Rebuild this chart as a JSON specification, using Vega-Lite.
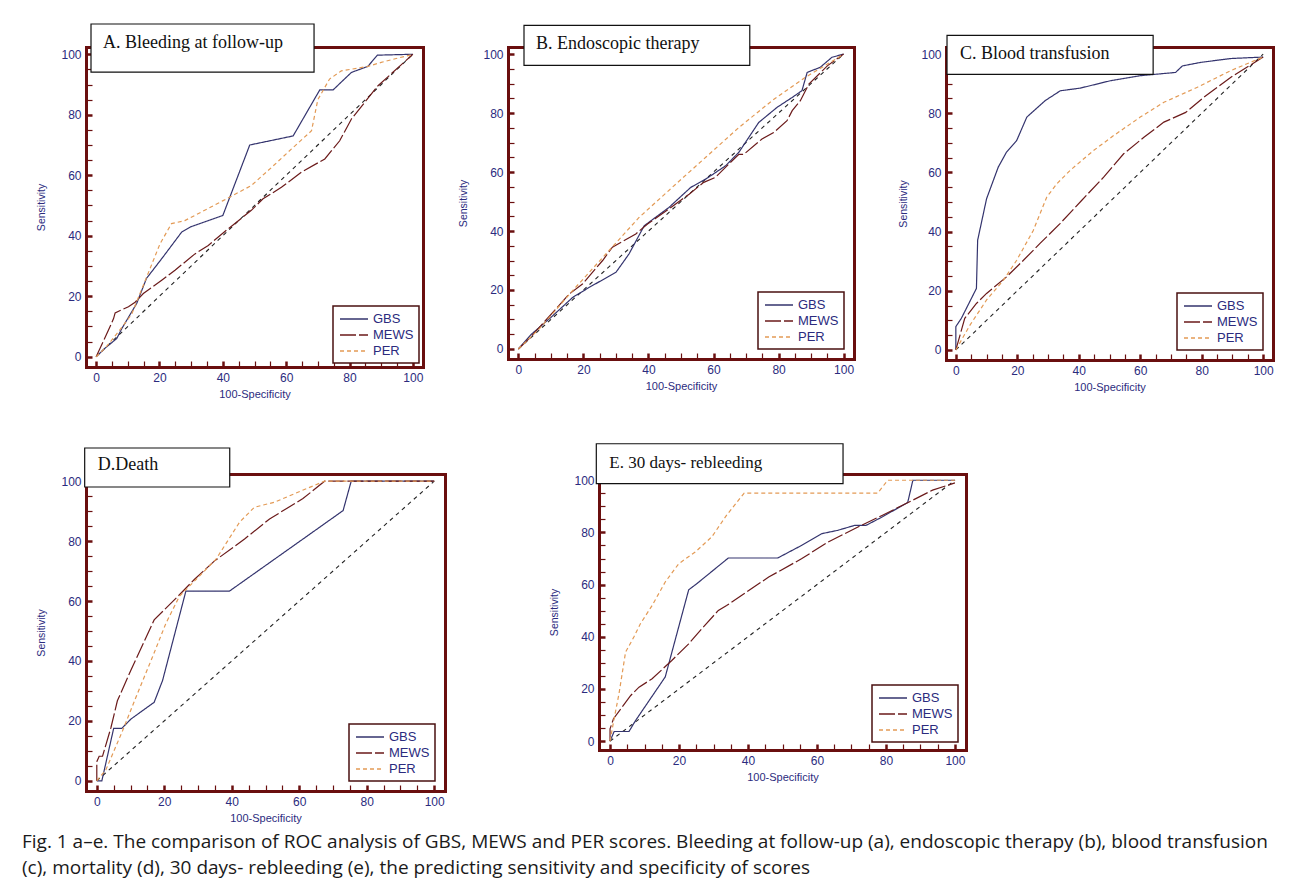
{
  "$schema": "https://vega.github.io/schema/vega-lite/v6.json",
  "background": "white",
  "padding": {"left": 21, "top": 23, "right": 5, "bottom": 5},
  "title": {
    "text": ["Fig. 1 a–e. The comparison of ROC analysis of GBS, MEWS and PER scores. Bleeding at follow-up (a), endoscopic therapy (b), blood transfusion", "(c), mortality (d), 30 days- rebleeding (e), the predicting sensitivity and specificity of scores"],
    "orient": "bottom", "anchor": "start", "font": "Open Sans", "fontSize": 19, "fontWeight": "normal",
    "color": "#1a1a1a", "lineHeight": 26, "offset": 10, "dx": -15
  },
  "config": {
    "view": {"stroke": null},
    "axis": {
      "grid": false, "domainColor": "#6a0f0f", "domainWidth": 3, "domainCap": "square",
      "labelFont": "Liberation Sans", "labelFontSize": 12, "labelColor": "#2b2b7e", "labelPadding": 11, "labelFlush": false, "labelOverlap": false,
      "tickColor": "#6a0f0f", "tickSize": -6, "titleFont": "Liberation Sans", "titleFontWeight": "normal", "titleColor": "#2b2b7e"
    },
    "legend": {
      "orient": "bottom-right", "offset": 10, "symbolType": "M-2,0H2", "symbolStrokeWidth": 1.5, "symbolSize": 196, "symbolOffset": 8,
      "labelFont": "Liberation Sans", "labelFontSize": 13, "labelColor": "#2b2b7e", "strokeColor": "#4a1010",
      "fillColor": "white", "padding": 5, "rowPadding": 1, "labelOffset": 11, "strokeWidth": 1.5
    }
  },
  "datasets": {
    "diag": [{"x": 0, "y": 0}, {"x": 100, "y": 100}],
    "A": [
      {"fpr": 0, "sens": 0, "score": "GBS"}, {"fpr": 3, "sens": 3, "score": "GBS"}, {"fpr": 6.5, "sens": 6, "score": "GBS"}, {"fpr": 8.1, "sens": 9.3, "score": "GBS"}, {"fpr": 12.8, "sens": 17.6, "score": "GBS"}, {"fpr": 15.9, "sens": 25.9, "score": "GBS"}, {"fpr": 20.7, "sens": 32.4, "score": "GBS"}, {"fpr": 27, "sens": 41.2, "score": "GBS"}, {"fpr": 30, "sens": 43, "score": "GBS"}, {"fpr": 40, "sens": 46.7, "score": "GBS"}, {"fpr": 48.5, "sens": 70, "score": "GBS"}, {"fpr": 62.2, "sens": 73, "score": "GBS"}, {"fpr": 70.6, "sens": 88.2, "score": "GBS"}, {"fpr": 74.8, "sens": 88.2, "score": "GBS"}, {"fpr": 80.6, "sens": 94, "score": "GBS"}, {"fpr": 85.8, "sens": 96, "score": "GBS"}, {"fpr": 88.8, "sens": 99.7, "score": "GBS"}, {"fpr": 100, "sens": 100, "score": "GBS"},
      {"fpr": 0, "sens": 0, "score": "MEWS"}, {"fpr": 3.9, "sens": 8.8, "score": "MEWS"}, {"fpr": 5.5, "sens": 12.6, "score": "MEWS"}, {"fpr": 6, "sens": 14.5, "score": "MEWS"}, {"fpr": 10.2, "sens": 16.5, "score": "MEWS"}, {"fpr": 12.3, "sens": 18, "score": "MEWS"}, {"fpr": 14.9, "sens": 20.9, "score": "MEWS"}, {"fpr": 20.7, "sens": 25.3, "score": "MEWS"}, {"fpr": 24.9, "sens": 28.6, "score": "MEWS"}, {"fpr": 31.2, "sens": 34, "score": "MEWS"}, {"fpr": 35.4, "sens": 36.8, "score": "MEWS"}, {"fpr": 41.7, "sens": 42.3, "score": "MEWS"}, {"fpr": 49, "sens": 48.4, "score": "MEWS"}, {"fpr": 52.7, "sens": 52.2, "score": "MEWS"}, {"fpr": 58.5, "sens": 56, "score": "MEWS"}, {"fpr": 64.8, "sens": 61, "score": "MEWS"}, {"fpr": 72.2, "sens": 65.4, "score": "MEWS"}, {"fpr": 76.9, "sens": 71.4, "score": "MEWS"}, {"fpr": 80.6, "sens": 78.6, "score": "MEWS"}, {"fpr": 89, "sens": 89.6, "score": "MEWS"}, {"fpr": 100, "sens": 100, "score": "MEWS"},
      {"fpr": 0, "sens": 0, "score": "PER"}, {"fpr": 3, "sens": 3, "score": "PER"}, {"fpr": 7, "sens": 8.2, "score": "PER"}, {"fpr": 11.2, "sens": 14, "score": "PER"}, {"fpr": 14.9, "sens": 23.6, "score": "PER"}, {"fpr": 20.2, "sens": 37.4, "score": "PER"}, {"fpr": 23.8, "sens": 44, "score": "PER"}, {"fpr": 28, "sens": 45, "score": "PER"}, {"fpr": 40.1, "sens": 51.6, "score": "PER"}, {"fpr": 49, "sens": 56.6, "score": "PER"}, {"fpr": 55.4, "sens": 62.6, "score": "PER"}, {"fpr": 61.7, "sens": 68.7, "score": "PER"}, {"fpr": 68, "sens": 74.7, "score": "PER"}, {"fpr": 70, "sens": 85, "score": "PER"}, {"fpr": 73.7, "sens": 91.8, "score": "PER"}, {"fpr": 77.4, "sens": 94.5, "score": "PER"}, {"fpr": 85.8, "sens": 96, "score": "PER"}, {"fpr": 90, "sens": 97.3, "score": "PER"}, {"fpr": 100, "sens": 100, "score": "PER"}
    ],
    "B": [
      {"fpr": 0, "sens": 0, "score": "GBS"}, {"fpr": 4, "sens": 5, "score": "GBS"}, {"fpr": 10, "sens": 10.7, "score": "GBS"}, {"fpr": 16.7, "sens": 17.5, "score": "GBS"}, {"fpr": 21.8, "sens": 20.9, "score": "GBS"}, {"fpr": 30, "sens": 26, "score": "GBS"}, {"fpr": 34, "sens": 32.2, "score": "GBS"}, {"fpr": 38.7, "sens": 41.8, "score": "GBS"}, {"fpr": 46.3, "sens": 48, "score": "GBS"}, {"fpr": 53, "sens": 54.8, "score": "GBS"}, {"fpr": 57.6, "sens": 57.6, "score": "GBS"}, {"fpr": 63.7, "sens": 62.1, "score": "GBS"}, {"fpr": 67.8, "sens": 66.7, "score": "GBS"}, {"fpr": 73.9, "sens": 76.8, "score": "GBS"}, {"fpr": 79.5, "sens": 81.9, "score": "GBS"}, {"fpr": 84.2, "sens": 85.3, "score": "GBS"}, {"fpr": 87.2, "sens": 87.6, "score": "GBS"}, {"fpr": 88.8, "sens": 93.8, "score": "GBS"}, {"fpr": 92.8, "sens": 95.5, "score": "GBS"}, {"fpr": 96.4, "sens": 98.9, "score": "GBS"}, {"fpr": 100, "sens": 100, "score": "GBS"},
      {"fpr": 0, "sens": 0, "score": "MEWS"}, {"fpr": 3.2, "sens": 3.4, "score": "MEWS"}, {"fpr": 7, "sens": 8, "score": "MEWS"}, {"fpr": 15.6, "sens": 18.6, "score": "MEWS"}, {"fpr": 19.7, "sens": 22, "score": "MEWS"}, {"fpr": 25.9, "sens": 30, "score": "MEWS"}, {"fpr": 28.9, "sens": 34.5, "score": "MEWS"}, {"fpr": 36.1, "sens": 39, "score": "MEWS"}, {"fpr": 39.7, "sens": 42.4, "score": "MEWS"}, {"fpr": 46.3, "sens": 47.5, "score": "MEWS"}, {"fpr": 52.5, "sens": 52.5, "score": "MEWS"}, {"fpr": 57, "sens": 56.5, "score": "MEWS"}, {"fpr": 60.6, "sens": 58.2, "score": "MEWS"}, {"fpr": 64.7, "sens": 62.7, "score": "MEWS"}, {"fpr": 67.8, "sens": 66, "score": "MEWS"}, {"fpr": 69.3, "sens": 66, "score": "MEWS"}, {"fpr": 74.9, "sens": 71.2, "score": "MEWS"}, {"fpr": 78.5, "sens": 73.4, "score": "MEWS"}, {"fpr": 82.6, "sens": 77.4, "score": "MEWS"}, {"fpr": 84.2, "sens": 80.8, "score": "MEWS"}, {"fpr": 86.7, "sens": 84.2, "score": "MEWS"}, {"fpr": 89.3, "sens": 89.8, "score": "MEWS"}, {"fpr": 95, "sens": 96, "score": "MEWS"}, {"fpr": 100, "sens": 100, "score": "MEWS"},
      {"fpr": 0, "sens": 0, "score": "PER"}, {"fpr": 6.4, "sens": 6.8, "score": "PER"}, {"fpr": 16.7, "sens": 19.8, "score": "PER"}, {"fpr": 26.9, "sens": 32.2, "score": "PER"}, {"fpr": 37.1, "sens": 44.6, "score": "PER"}, {"fpr": 47.3, "sens": 54.8, "score": "PER"}, {"fpr": 57.6, "sens": 65, "score": "PER"}, {"fpr": 67.8, "sens": 75.1, "score": "PER"}, {"fpr": 78, "sens": 84.2, "score": "PER"}, {"fpr": 88.2, "sens": 92.1, "score": "PER"}, {"fpr": 98.5, "sens": 98.9, "score": "PER"}, {"fpr": 100, "sens": 100, "score": "PER"}
    ],
    "C": [
      {"fpr": 0, "sens": 0, "score": "GBS"}, {"fpr": 0, "sens": 7.9, "score": "GBS"}, {"fpr": 1.8, "sens": 10.7, "score": "GBS"}, {"fpr": 6.7, "sens": 20.8, "score": "GBS"}, {"fpr": 7.1, "sens": 37.1, "score": "GBS"}, {"fpr": 10, "sens": 51.1, "score": "GBS"}, {"fpr": 13.8, "sens": 61.8, "score": "GBS"}, {"fpr": 16.5, "sens": 66.9, "score": "GBS"}, {"fpr": 19.8, "sens": 70.8, "score": "GBS"}, {"fpr": 23.1, "sens": 78.7, "score": "GBS"}, {"fpr": 29.1, "sens": 84.3, "score": "GBS"}, {"fpr": 34, "sens": 87.6, "score": "GBS"}, {"fpr": 40.5, "sens": 88.5, "score": "GBS"}, {"fpr": 50.3, "sens": 91, "score": "GBS"}, {"fpr": 60, "sens": 92.7, "score": "GBS"}, {"fpr": 71.5, "sens": 93.8, "score": "GBS"}, {"fpr": 73.7, "sens": 96, "score": "GBS"}, {"fpr": 79.7, "sens": 97.2, "score": "GBS"}, {"fpr": 89.4, "sens": 98.5, "score": "GBS"}, {"fpr": 100, "sens": 99, "score": "GBS"},
      {"fpr": 0, "sens": 0, "score": "MEWS"}, {"fpr": 2.9, "sens": 10.7, "score": "MEWS"}, {"fpr": 6.7, "sens": 15.7, "score": "MEWS"}, {"fpr": 10, "sens": 19.1, "score": "MEWS"}, {"fpr": 16.5, "sens": 24.7, "score": "MEWS"}, {"fpr": 22, "sens": 30.3, "score": "MEWS"}, {"fpr": 27.4, "sens": 36, "score": "MEWS"}, {"fpr": 33.9, "sens": 42.7, "score": "MEWS"}, {"fpr": 41, "sens": 50.6, "score": "MEWS"}, {"fpr": 48.1, "sens": 58.4, "score": "MEWS"}, {"fpr": 54.6, "sens": 66.3, "score": "MEWS"}, {"fpr": 61.2, "sens": 71.9, "score": "MEWS"}, {"fpr": 67.7, "sens": 77, "score": "MEWS"}, {"fpr": 74.8, "sens": 80.3, "score": "MEWS"}, {"fpr": 80.7, "sens": 85.4, "score": "MEWS"}, {"fpr": 89.4, "sens": 92.1, "score": "MEWS"}, {"fpr": 100, "sens": 99, "score": "MEWS"},
      {"fpr": 0, "sens": 0, "score": "PER"}, {"fpr": 4.6, "sens": 8.4, "score": "PER"}, {"fpr": 10, "sens": 16.9, "score": "PER"}, {"fpr": 15.5, "sens": 23.6, "score": "PER"}, {"fpr": 19.8, "sens": 30.3, "score": "PER"}, {"fpr": 25.2, "sens": 40.4, "score": "PER"}, {"fpr": 29.6, "sens": 51.7, "score": "PER"}, {"fpr": 32.9, "sens": 56.2, "score": "PER"}, {"fpr": 37.2, "sens": 60.7, "score": "PER"}, {"fpr": 44.8, "sens": 67.4, "score": "PER"}, {"fpr": 51.4, "sens": 72.5, "score": "PER"}, {"fpr": 60, "sens": 78.7, "score": "PER"}, {"fpr": 67.7, "sens": 83.7, "score": "PER"}, {"fpr": 78.6, "sens": 88.8, "score": "PER"}, {"fpr": 89.4, "sens": 94.4, "score": "PER"}, {"fpr": 100, "sens": 99, "score": "PER"}
    ],
    "D": [
      {"fpr": 0, "sens": 0, "score": "GBS"}, {"fpr": 1.5, "sens": 0, "score": "GBS"}, {"fpr": 5, "sens": 17.5, "score": "GBS"}, {"fpr": 7.4, "sens": 17.5, "score": "GBS"}, {"fpr": 10.1, "sens": 20.6, "score": "GBS"}, {"fpr": 17, "sens": 26.2, "score": "GBS"}, {"fpr": 19.5, "sens": 33.5, "score": "GBS"}, {"fpr": 26.4, "sens": 63.3, "score": "GBS"}, {"fpr": 39.3, "sens": 63.3, "score": "GBS"}, {"fpr": 66, "sens": 84.6, "score": "GBS"}, {"fpr": 73, "sens": 90.2, "score": "GBS"}, {"fpr": 75.4, "sens": 100, "score": "GBS"}, {"fpr": 100, "sens": 100, "score": "GBS"},
      {"fpr": 0, "sens": 0, "score": "MEWS"}, {"fpr": 0, "sens": 6.4, "score": "MEWS"}, {"fpr": 0.7, "sens": 8.2, "score": "MEWS"}, {"fpr": 1.7, "sens": 8.2, "score": "MEWS"}, {"fpr": 4.2, "sens": 17.8, "score": "MEWS"}, {"fpr": 6.1, "sens": 26.7, "score": "MEWS"}, {"fpr": 10.1, "sens": 36.9, "score": "MEWS"}, {"fpr": 17, "sens": 53.7, "score": "MEWS"}, {"fpr": 19.5, "sens": 56.5, "score": "MEWS"}, {"fpr": 24.5, "sens": 62.1, "score": "MEWS"}, {"fpr": 28.9, "sens": 67.2, "score": "MEWS"}, {"fpr": 34.9, "sens": 73.4, "score": "MEWS"}, {"fpr": 43.8, "sens": 80.7, "score": "MEWS"}, {"fpr": 51.2, "sens": 87.4, "score": "MEWS"}, {"fpr": 61.1, "sens": 94.2, "score": "MEWS"}, {"fpr": 67.5, "sens": 100, "score": "MEWS"}, {"fpr": 100, "sens": 100, "score": "MEWS"},
      {"fpr": 0, "sens": 0, "score": "PER"}, {"fpr": 2.7, "sens": 3.7, "score": "PER"}, {"fpr": 7.6, "sens": 16.6, "score": "PER"}, {"fpr": 11.6, "sens": 27.9, "score": "PER"}, {"fpr": 16.5, "sens": 41.3, "score": "PER"}, {"fpr": 20.5, "sens": 52.6, "score": "PER"}, {"fpr": 24.5, "sens": 61.6, "score": "PER"}, {"fpr": 29.4, "sens": 67.2, "score": "PER"}, {"fpr": 35.3, "sens": 73.9, "score": "PER"}, {"fpr": 42.3, "sens": 86.3, "score": "PER"}, {"fpr": 46.7, "sens": 91.3, "score": "PER"}, {"fpr": 52.7, "sens": 93, "score": "PER"}, {"fpr": 62.1, "sens": 97.5, "score": "PER"}, {"fpr": 67.5, "sens": 100, "score": "PER"}, {"fpr": 100, "sens": 100, "score": "PER"}
    ],
    "E": [
      {"fpr": 0, "sens": 0, "score": "GBS"}, {"fpr": 1.2, "sens": 3.7, "score": "GBS"}, {"fpr": 5.5, "sens": 3.7, "score": "GBS"}, {"fpr": 7.4, "sens": 7.9, "score": "GBS"}, {"fpr": 16, "sens": 24.6, "score": "GBS"}, {"fpr": 22.8, "sens": 58, "score": "GBS"}, {"fpr": 25.2, "sens": 60.4, "score": "GBS"}, {"fpr": 34.3, "sens": 70.2, "score": "GBS"}, {"fpr": 48.6, "sens": 70.2, "score": "GBS"}, {"fpr": 55.5, "sens": 75, "score": "GBS"}, {"fpr": 61.3, "sens": 79.5, "score": "GBS"}, {"fpr": 66, "sens": 80.8, "score": "GBS"}, {"fpr": 70.9, "sens": 82.7, "score": "GBS"}, {"fpr": 74.2, "sens": 82.7, "score": "GBS"}, {"fpr": 79, "sens": 86, "score": "GBS"}, {"fpr": 86.3, "sens": 91.5, "score": "GBS"}, {"fpr": 87.8, "sens": 100, "score": "GBS"}, {"fpr": 100, "sens": 100, "score": "GBS"},
      {"fpr": 0, "sens": 0, "score": "MEWS"}, {"fpr": 0, "sens": 4.7, "score": "MEWS"}, {"fpr": 1, "sens": 8.6, "score": "MEWS"}, {"fpr": 6, "sens": 17.5, "score": "MEWS"}, {"fpr": 8.4, "sens": 20.7, "score": "MEWS"}, {"fpr": 12.2, "sens": 23.9, "score": "MEWS"}, {"fpr": 17.9, "sens": 30.9, "score": "MEWS"}, {"fpr": 22.8, "sens": 37.3, "score": "MEWS"}, {"fpr": 26.6, "sens": 43.1, "score": "MEWS"}, {"fpr": 31.4, "sens": 50.1, "score": "MEWS"}, {"fpr": 33.8, "sens": 52, "score": "MEWS"}, {"fpr": 38.2, "sens": 55.9, "score": "MEWS"}, {"fpr": 46, "sens": 62.9, "score": "MEWS"}, {"fpr": 55.5, "sens": 69.9, "score": "MEWS"}, {"fpr": 63.2, "sens": 76.3, "score": "MEWS"}, {"fpr": 71.3, "sens": 81.7, "score": "MEWS"}, {"fpr": 79, "sens": 86.6, "score": "MEWS"}, {"fpr": 87.2, "sens": 92, "score": "MEWS"}, {"fpr": 93.5, "sens": 96.2, "score": "MEWS"}, {"fpr": 100, "sens": 99, "score": "MEWS"},
      {"fpr": 0, "sens": 0, "score": "PER"}, {"fpr": 1, "sens": 7.3, "score": "PER"}, {"fpr": 2.6, "sens": 18.2, "score": "PER"}, {"fpr": 4.5, "sens": 34.1, "score": "PER"}, {"fpr": 6.9, "sens": 39.9, "score": "PER"}, {"fpr": 8.8, "sens": 45, "score": "PER"}, {"fpr": 12.2, "sens": 52, "score": "PER"}, {"fpr": 16, "sens": 61, "score": "PER"}, {"fpr": 19.9, "sens": 68, "score": "PER"}, {"fpr": 24.7, "sens": 72.5, "score": "PER"}, {"fpr": 29.5, "sens": 78.3, "score": "PER"}, {"fpr": 33.8, "sens": 86.6, "score": "PER"}, {"fpr": 38.9, "sens": 95.1, "score": "PER"}, {"fpr": 77.6, "sens": 95.1, "score": "PER"}, {"fpr": 80.5, "sens": 100, "score": "PER"}, {"fpr": 100, "sens": 100, "score": "PER"}
    ]
  },
  "spacing": 44,
  "resolve": {"scale": {"color": "independent", "strokeDash": "independent"}, "legend": {"color": "independent", "strokeDash": "independent"}},
  "vconcat": [
    {
      "spacing": 44, "align": "none",
      "resolve": {"scale": {"color": "independent", "strokeDash": "independent"}, "legend": {"color": "independent", "strokeDash": "independent"}},
      "hconcat": [
        {
          "spacing": 35, "align": "none",
          "resolve": {"scale": {"color": "independent", "strokeDash": "independent"}, "legend": {"color": "independent", "strokeDash": "independent"}},
          "hconcat": [
            {
              "width": 337, "height": 320,
              "resolve": {"axis": {"x": "independent", "y": "independent"}},
              "layer": [
                {"data": {"name": "diag"}, "mark": {"type": "line", "color": "#222222", "strokeDash": [4, 4], "strokeWidth": 1.1},
                 "encoding": {
                   "x": {"field": "x", "type": "quantitative", "scale": {"domain": [-3.2, 103.2], "nice": false, "zero": false}, "axis": {"orient": "top", "labels": false, "ticks": false, "title": null}},
                   "y": {"field": "y", "type": "quantitative", "scale": {"domain": [-3.4, 102.4], "nice": false, "zero": false}, "axis": {"orient": "right", "labels": false, "ticks": false, "title": null}}
                 }},
                {"data": {"name": "A"}, "mark": {"type": "line", "strokeWidth": 1.2},
                 "encoding": {
                   "x": {"field": "fpr", "type": "quantitative", "scale": {"domain": [-3.2, 103.2], "nice": false, "zero": false},
                     "axis": {"orient": "bottom", "values": [0,5,10,15,20,25,30,35,40,45,50,55,60,65,70,75,80,85,90,95,100], "labelExpr": "datum.value % 20 === 0 ? datum.label : ''", "title": "100-Specificity", "titleFontSize": 11, "titlePadding": 5, "tickWidth": {"condition": {"test": "datum.value % 20 === 0", "value": 2.5}, "value": 1.2}}},
                   "y": {"field": "sens", "type": "quantitative", "scale": {"domain": [-3.4, 102.4], "nice": false, "zero": false},
                     "axis": {"orient": "left", "values": [0,5,10,15,20,25,30,35,40,45,50,55,60,65,70,75,80,85,90,95,100], "labelExpr": "datum.value % 20 === 0 ? datum.label : ''", "title": "Sensitivity", "titleFontSize": 10.5, "titlePadding": 14, "tickWidth": {"condition": {"test": "datum.value % 20 === 0", "value": 2.5}, "value": 1.2}}},
                   "color": {"field": "score", "type": "nominal", "scale": {"domain": ["GBS", "MEWS", "PER"], "range": ["#34346e", "#6b1a1a", "#e39a55"]}, "legend": {"title": null, "offset": 4}},
                   "strokeDash": {"field": "score", "type": "nominal", "scale": {"domain": ["GBS", "MEWS", "PER"], "range": [[1, 0], [16, 3], [4, 3]]}, "legend": {"title": null, "offset": 4}},
                   "order": [{"field": "fpr", "type": "quantitative"}, {"field": "sens", "type": "quantitative"}]
                 }},
                {"data": {"values": [{"label": "A. Bleeding at follow-up"}]}, "mark": {"type": "rect", "fill": "white", "stroke": "#111111", "strokeWidth": 1.2},
                 "encoding": {"x": {"datum": -1.62, "axis": null}, "x2": {"datum": 68.8}, "y": {"datum": 110, "axis": null}, "y2": {"datum": 94.1}}},
                {"data": {"values": [{"label": "A. Bleeding at follow-up"}]}, "mark": {"type": "text", "font": "Liberation Serif", "fontSize": 18, "align": "left", "baseline": "middle", "color": "#111111"},
                 "encoding": {"x": {"datum": 2.2, "axis": null}, "y": {"datum": 103.7, "axis": null}, "text": {"field": "label"}}}
              ]
            },
            {
              "width": 346, "height": 312,
              "resolve": {"axis": {"x": "independent", "y": "independent"}},
              "layer": [
                {"data": {"name": "diag"}, "mark": {"type": "line", "color": "#222222", "strokeDash": [4, 4], "strokeWidth": 1.1},
                 "encoding": {
                   "x": {"field": "x", "type": "quantitative", "scale": {"domain": [-3.2, 103.2], "nice": false, "zero": false}, "axis": {"orient": "top", "labels": false, "ticks": false, "title": null}},
                   "y": {"field": "y", "type": "quantitative", "scale": {"domain": [-3.4, 102.4], "nice": false, "zero": false}, "axis": {"orient": "right", "labels": false, "ticks": false, "title": null}}
                 }},
                {"data": {"name": "B"}, "mark": {"type": "line", "strokeWidth": 1.2},
                 "encoding": {
                   "x": {"field": "fpr", "type": "quantitative", "scale": {"domain": [-3.2, 103.2], "nice": false, "zero": false},
                     "axis": {"orient": "bottom", "values": [0,5,10,15,20,25,30,35,40,45,50,55,60,65,70,75,80,85,90,95,100], "labelExpr": "datum.value % 20 === 0 ? datum.label : ''", "title": "100-Specificity", "titleFontSize": 11, "titlePadding": 5, "tickWidth": {"condition": {"test": "datum.value % 20 === 0", "value": 2.5}, "value": 1.2}}},
                   "y": {"field": "sens", "type": "quantitative", "scale": {"domain": [-3.4, 102.4], "nice": false, "zero": false},
                     "axis": {"orient": "left", "values": [0,5,10,15,20,25,30,35,40,45,50,55,60,65,70,75,80,85,90,95,100], "labelExpr": "datum.value % 20 === 0 ? datum.label : ''", "title": "Sensitivity", "titleFontSize": 10.5, "titlePadding": 14, "tickWidth": {"condition": {"test": "datum.value % 20 === 0", "value": 2.5}, "value": 1.2}}},
                   "color": {"field": "score", "type": "nominal", "scale": {"domain": ["GBS", "MEWS", "PER"], "range": ["#34346e", "#6b1a1a", "#e39a55"]}, "legend": {"title": null}},
                   "strokeDash": {"field": "score", "type": "nominal", "scale": {"domain": ["GBS", "MEWS", "PER"], "range": [[1, 0], [16, 3], [4, 3]]}, "legend": {"title": null}},
                   "order": [{"field": "fpr", "type": "quantitative"}, {"field": "sens", "type": "quantitative"}]
                 }},
                {"data": {"values": [{"label": "B. Endoscopic therapy"}]}, "mark": {"type": "rect", "fill": "white", "stroke": "#111111", "strokeWidth": 1.2},
                 "encoding": {"x": {"datum": 1.72, "axis": null}, "x2": {"datum": 71.15}, "y": {"datum": 109.76, "axis": null}, "y2": {"datum": 96.2}}},
                {"data": {"values": [{"label": "B. Endoscopic therapy"}]}, "mark": {"type": "text", "font": "Liberation Serif", "fontSize": 18, "align": "left", "baseline": "middle", "color": "#111111"},
                 "encoding": {"x": {"datum": 5.4, "axis": null}, "y": {"datum": 103.55, "axis": null}, "text": {"field": "label"}}}
              ]
            }
          ]
        },
        {
          "width": 327, "height": 313,
          "resolve": {"axis": {"x": "independent", "y": "independent"}},
          "layer": [
            {"data": {"name": "diag"}, "mark": {"type": "line", "color": "#222222", "strokeDash": [4, 4], "strokeWidth": 1.1},
             "encoding": {
               "x": {"field": "x", "type": "quantitative", "scale": {"domain": [-3.2, 103.2], "nice": false, "zero": false}, "axis": {"orient": "top", "labels": false, "ticks": false, "title": null}},
               "y": {"field": "y", "type": "quantitative", "scale": {"domain": [-3.4, 102.4], "nice": false, "zero": false}, "axis": {"orient": "right", "labels": false, "ticks": false, "title": null}}
             }},
            {"data": {"name": "C"}, "mark": {"type": "line", "strokeWidth": 1.2},
             "encoding": {
               "x": {"field": "fpr", "type": "quantitative", "scale": {"domain": [-3.2, 103.2], "nice": false, "zero": false},
                 "axis": {"orient": "bottom", "values": [0,5,10,15,20,25,30,35,40,45,50,55,60,65,70,75,80,85,90,95,100], "labelExpr": "datum.value % 20 === 0 ? datum.label : ''", "title": "100-Specificity", "titleFontSize": 11, "titlePadding": 5, "tickWidth": {"condition": {"test": "datum.value % 20 === 0", "value": 2.5}, "value": 1.2}}},
               "y": {"field": "sens", "type": "quantitative", "scale": {"domain": [-3.4, 102.4], "nice": false, "zero": false},
                 "axis": {"orient": "left", "values": [0,5,10,15,20,25,30,35,40,45,50,55,60,65,70,75,80,85,90,95,100], "labelExpr": "datum.value % 20 === 0 ? datum.label : ''", "title": "Sensitivity", "titleFontSize": 10.5, "titlePadding": 12, "tickWidth": {"condition": {"test": "datum.value % 20 === 0", "value": 2.5}, "value": 1.2}}},
               "color": {"field": "score", "type": "nominal", "scale": {"domain": ["GBS", "MEWS", "PER"], "range": ["#34346e", "#6b1a1a", "#e39a55"]}, "legend": {"title": null}},
               "strokeDash": {"field": "score", "type": "nominal", "scale": {"domain": ["GBS", "MEWS", "PER"], "range": [[1, 0], [16, 3], [4, 3]]}, "legend": {"title": null}},
               "order": [{"field": "fpr", "type": "quantitative"}, {"field": "sens", "type": "quantitative"}]
             }},
            {"data": {"values": [{"label": "C. Blood transfusion"}]}, "mark": {"type": "rect", "fill": "white", "stroke": "#111111", "strokeWidth": 1.2},
             "encoding": {"x": {"datum": -2.87, "axis": null}, "x2": {"datum": 64.2}, "y": {"datum": 106.36, "axis": null}, "y2": {"datum": 93.17}}},
            {"data": {"values": [{"label": "C. Blood transfusion"}]}, "mark": {"type": "text", "font": "Liberation Serif", "fontSize": 18, "align": "left", "baseline": "middle", "color": "#111111"},
             "encoding": {"x": {"datum": 1.36, "axis": null}, "y": {"datum": 100.17, "axis": null}, "text": {"field": "label"}}}
          ]
        }
      ]
    },
    {
      "spacing": 104, "align": "none",
      "resolve": {"scale": {"color": "independent", "strokeDash": "independent"}, "legend": {"color": "independent", "strokeDash": "independent"}},
      "hconcat": [
        {
          "width": 359, "height": 317,
          "resolve": {"axis": {"x": "independent", "y": "independent"}},
          "layer": [
            {"data": {"name": "diag"}, "mark": {"type": "line", "color": "#222222", "strokeDash": [4, 4], "strokeWidth": 1.1},
             "encoding": {
               "x": {"field": "x", "type": "quantitative", "scale": {"domain": [-3.2, 103.2], "nice": false, "zero": false}, "axis": {"orient": "top", "labels": false, "ticks": false, "title": null}},
               "y": {"field": "y", "type": "quantitative", "scale": {"domain": [-3.4, 102.4], "nice": false, "zero": false}, "axis": {"orient": "right", "labels": false, "ticks": false, "title": null}}
             }},
            {"data": {"name": "D"}, "mark": {"type": "line", "strokeWidth": 1.2},
             "encoding": {
               "x": {"field": "fpr", "type": "quantitative", "scale": {"domain": [-3.2, 103.2], "nice": false, "zero": false},
                 "axis": {"orient": "bottom", "values": [0,5,10,15,20,25,30,35,40,45,50,55,60,65,70,75,80,85,90,95,100], "labelExpr": "datum.value % 20 === 0 ? datum.label : ''", "title": "100-Specificity", "titleFontSize": 11, "titlePadding": 5, "tickWidth": {"condition": {"test": "datum.value % 20 === 0", "value": 2.5}, "value": 1.2}}},
               "y": {"field": "sens", "type": "quantitative", "scale": {"domain": [-3.4, 102.4], "nice": false, "zero": false},
                 "axis": {"orient": "left", "values": [0,5,10,15,20,25,30,35,40,45,50,55,60,65,70,75,80,85,90,95,100], "labelExpr": "datum.value % 20 === 0 ? datum.label : ''", "title": "Sensitivity", "titleFontSize": 10.5, "titlePadding": 14, "tickWidth": {"condition": {"test": "datum.value % 20 === 0", "value": 2.5}, "value": 1.2}}},
               "color": {"field": "score", "type": "nominal", "scale": {"domain": ["GBS", "MEWS", "PER"], "range": ["#34346e", "#6b1a1a", "#e39a55"]}, "legend": {"title": null}},
               "strokeDash": {"field": "score", "type": "nominal", "scale": {"domain": ["GBS", "MEWS", "PER"], "range": [[1, 0], [16, 3], [4, 3]]}, "legend": {"title": null}},
               "order": [{"field": "fpr", "type": "quantitative"}, {"field": "sens", "type": "quantitative"}]
             }},
            {"data": {"values": [{"label": "D.Death"}]}, "mark": {"type": "rect", "fill": "white", "stroke": "#111111", "strokeWidth": 1.2},
             "encoding": {"x": {"datum": -3.59, "axis": null}, "x2": {"datum": 39.4}, "y": {"datum": 111.08, "axis": null}, "y2": {"datum": 98.06}}},
            {"data": {"values": [{"label": "D.Death"}]}, "mark": {"type": "text", "font": "Liberation Serif", "fontSize": 18, "align": "left", "baseline": "middle", "color": "#111111"},
             "encoding": {"x": {"datum": 0.27, "axis": null}, "y": {"datum": 105.5, "axis": null}, "text": {"field": "label"}}}
          ]
        },
        {
          "width": 367, "height": 276,
          "resolve": {"axis": {"x": "independent", "y": "independent"}},
          "layer": [
            {"data": {"name": "diag"}, "mark": {"type": "line", "color": "#222222", "strokeDash": [4, 4], "strokeWidth": 1.1},
             "encoding": {
               "x": {"field": "x", "type": "quantitative", "scale": {"domain": [-3.2, 103.2], "nice": false, "zero": false}, "axis": {"orient": "top", "labels": false, "ticks": false, "title": null}},
               "y": {"field": "y", "type": "quantitative", "scale": {"domain": [-3.4, 102.4], "nice": false, "zero": false}, "axis": {"orient": "right", "labels": false, "ticks": false, "title": null}}
             }},
            {"data": {"name": "E"}, "mark": {"type": "line", "strokeWidth": 1.2},
             "encoding": {
               "x": {"field": "fpr", "type": "quantitative", "scale": {"domain": [-3.2, 103.2], "nice": false, "zero": false},
                 "axis": {"orient": "bottom", "values": [0,5,10,15,20,25,30,35,40,45,50,55,60,65,70,75,80,85,90,95,100], "labelExpr": "datum.value % 20 === 0 ? datum.label : ''", "title": "100-Specificity", "titleFontSize": 11, "titlePadding": 5, "tickWidth": {"condition": {"test": "datum.value % 20 === 0", "value": 2.5}, "value": 1.2}}},
               "y": {"field": "sens", "type": "quantitative", "scale": {"domain": [-3.4, 102.4], "nice": false, "zero": false},
                 "axis": {"orient": "left", "values": [0,5,10,15,20,25,30,35,40,45,50,55,60,65,70,75,80,85,90,95,100], "labelExpr": "datum.value % 20 === 0 ? datum.label : ''", "title": "Sensitivity", "titleFontSize": 10.5, "titlePadding": 14, "tickWidth": {"condition": {"test": "datum.value % 20 === 0", "value": 2.5}, "value": 1.2}}},
               "color": {"field": "score", "type": "nominal", "scale": {"domain": ["GBS", "MEWS", "PER"], "range": ["#34346e", "#6b1a1a", "#e39a55"]}, "legend": {"title": null, "offset": 8}},
               "strokeDash": {"field": "score", "type": "nominal", "scale": {"domain": ["GBS", "MEWS", "PER"], "range": [[1, 0], [16, 3], [4, 3]]}, "legend": {"title": null, "offset": 8}},
               "order": [{"field": "fpr", "type": "quantitative"}, {"field": "sens", "type": "quantitative"}]
             }},
            {"data": {"values": [{"label": "E. 30 days- rebleeding"}]}, "mark": {"type": "rect", "fill": "white", "stroke": "#111111", "strokeWidth": 1.2},
             "encoding": {"x": {"datum": -3.98, "axis": null}, "x2": {"datum": 67.55}, "y": {"datum": 114, "axis": null}, "y2": {"datum": 98.7}}},
            {"data": {"values": [{"label": "E. 30 days- rebleeding"}]}, "mark": {"type": "text", "font": "Liberation Serif", "fontSize": 17, "align": "left", "baseline": "middle", "color": "#111111"},
             "encoding": {"x": {"datum": -0.23, "axis": null}, "y": {"datum": 106.6, "axis": null}, "text": {"field": "label"}}}
          ]
        }
      ]
    }
  ]
}
